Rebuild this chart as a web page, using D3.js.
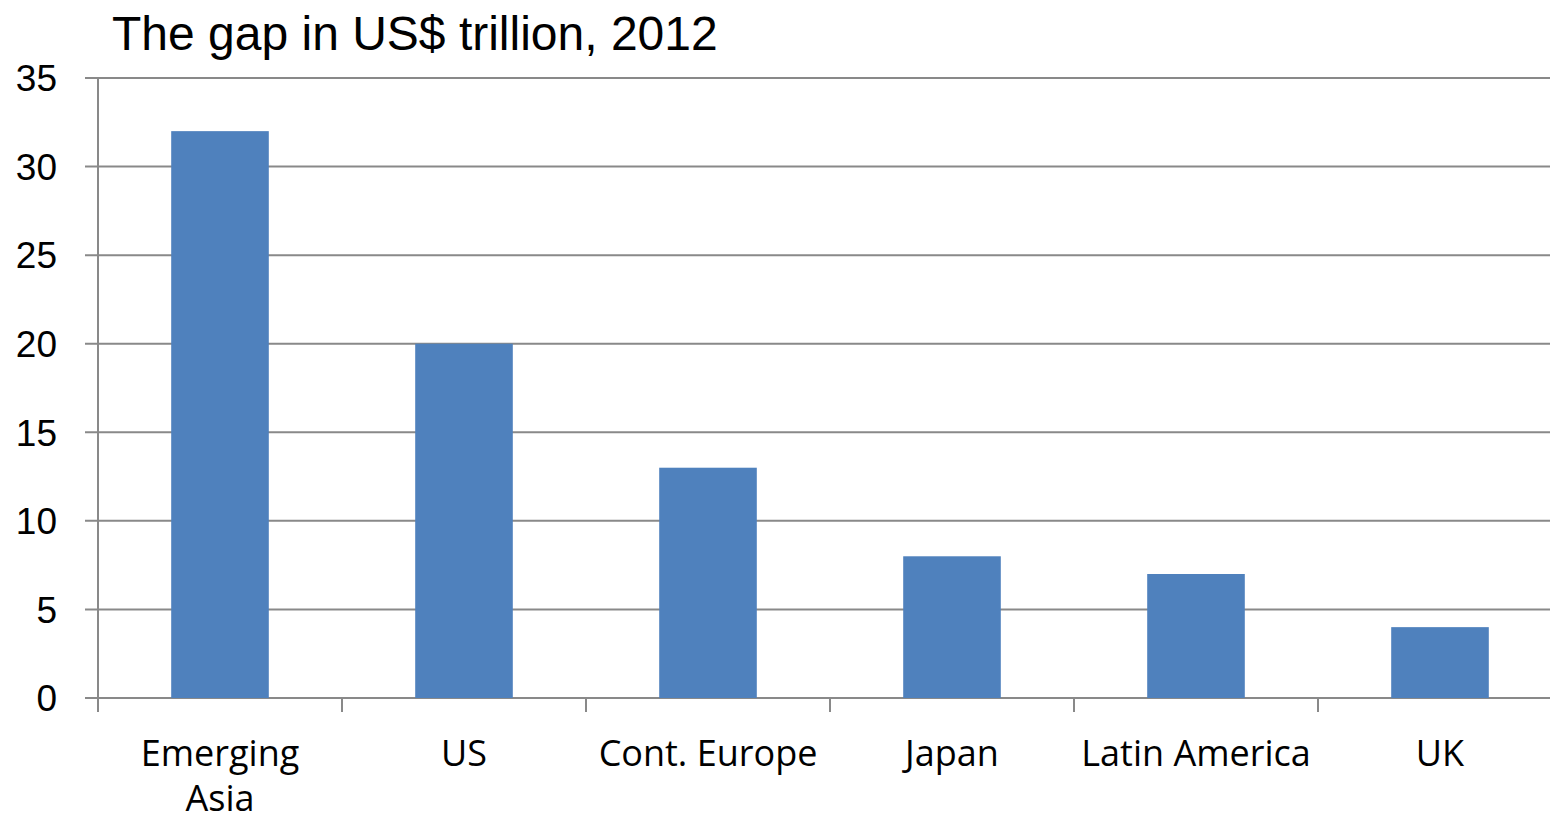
<!DOCTYPE html>
<html>
<head>
<meta charset="utf-8">
<script src="https://cdn.jsdelivr.net/npm/d3@7"></script>
<style>
  body { margin: 0; background: #fff; overflow: hidden; }
  svg { display: block; }
</style>
</head>
<body>
<div class="chart"></div>
<script>
const categories = [['Emerging', 'Asia'], ['US'], ['Cont. Europe'], ['Japan'], ['Latin America'], ['UK']]
const values = [32, 20, 13, 8, 7, 4]
const yTicks = [0, 5, 10, 15, 20, 25, 30, 35]
const title = 'The gap in US$ trillion, 2012'

const width = 1550, height = 821
const margin = {top: 78, right: -12, bottom: 123, left: 98}
const innerW = width - margin.left - margin.right
const innerH = height - margin.top - margin.bottom

const svg = d3.select('.chart').append('svg').attr('width', width).attr('height', height)
const g = svg.append('g').attr('transform', `translate(${margin.left}, ${margin.top})`)

const names = categories.map(c => c.join(' '))
const x = d3.scaleBand().domain(names).range([0, innerW]).paddingInner(0.6).paddingOuter(0.3)
const xb = d3.scaleBand().domain(names).range([0, innerW])
const y = d3.scaleLinear().domain([0, 35]).range([innerH, 0])

// gridlines
g.selectAll('.grid')
  .data(yTicks)
  .join('line')
  .attr('x1', -13).attr('x2', innerW)
  .attr('y1', d => y(d)).attr('y2', d => y(d))
  .attr('stroke', '#898989').attr('stroke-width', 2)

// y labels
g.selectAll('.ylab')
  .data(yTicks)
  .join('text')
  .attr('x', -41).attr('y', d => y(d))
  .attr('dy', '0.36em')
  .attr('text-anchor', 'end')
  .attr('font-family', '"Liberation Sans", Arial, sans-serif')
  .attr('font-size', 37)
  .text(d => d)

// bars
g.selectAll('rect')
  .data(values)
  .join('rect')
  .attr('x', (d, i) => x(names[i]))
  .attr('width', x.bandwidth())
  .attr('y', d => y(d))
  .attr('height', d => innerH - y(d))
  .attr('fill', '#4F81BD')

// axis line and category ticks
g.append('line')
  .attr('x1', 0).attr('x2', 0).attr('y1', 0).attr('y2', innerH + 14)
  .attr('stroke', '#898989').attr('stroke-width', 2)
g.selectAll('.xtick')
  .data(names.slice(1))
  .join('line')
  .attr('x1', d => xb(d)).attr('x2', d => xb(d))
  .attr('y1', innerH).attr('y2', innerH + 14)
  .attr('stroke', '#898989').attr('stroke-width', 2)

// category labels
const labels = g.selectAll('.xlab')
  .data(categories)
  .join('text')
  .attr('text-anchor', 'middle')
  .attr('font-family', '"Open Sans", Calibri, sans-serif')
  .attr('font-size', 36)
  .attr('transform', (d, i) => `translate(${xb(names[i]) + xb.bandwidth() / 2}, ${innerH + 68})`)
labels.selectAll('tspan')
  .data(d => d)
  .join('tspan')
  .attr('x', 0)
  .attr('dy', (d, i) => i === 0 ? 0 : 45)
  .text(d => d)

// title
svg.append('text')
  .attr('x', 112).attr('y', 50)
  .attr('font-family', '"Liberation Sans", Arial, sans-serif')
  .attr('font-size', 48)
  .text(title)
</script>
</body>
</html>
